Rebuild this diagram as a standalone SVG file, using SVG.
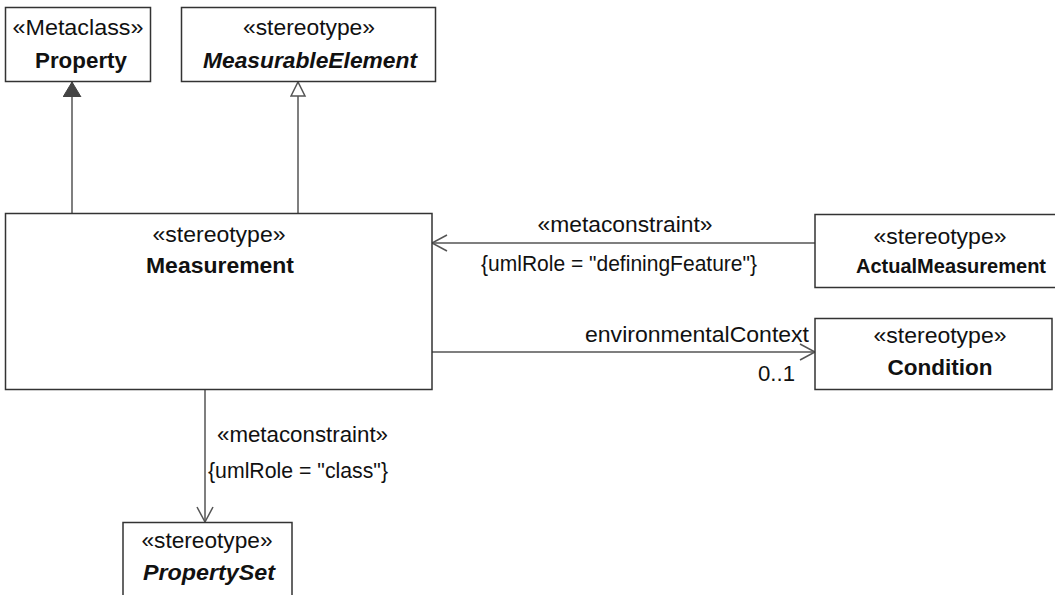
<svg xmlns="http://www.w3.org/2000/svg" width="1055" height="595" viewBox="0 0 1055 595">
<style>
.box{fill:#fff;stroke:#333;stroke-width:1.5}
.ln{fill:none;stroke:#555;stroke-width:1.5}
text{font-family:"Liberation Sans",Arial,sans-serif;font-size:22px;fill:#111}
.st{text-anchor:middle}
.nm{text-anchor:middle;font-weight:bold}
.it{font-style:italic}
</style>
<defs>
<marker id="filled" markerWidth="20" markerHeight="20" refX="15" refY="9" orient="auto" markerUnits="userSpaceOnUse">
<path d="M0,0 L15,9 L0,18 Z" fill="#444" stroke="#444" stroke-width="1"/>
</marker>
<marker id="hollow" markerWidth="20" markerHeight="20" refX="15" refY="8" orient="auto" markerUnits="userSpaceOnUse">
<path d="M1,1 L15,8 L1,15 Z" fill="#fff" stroke="#555" stroke-width="1.5"/>
</marker>
<marker id="open" markerWidth="20" markerHeight="20" refX="16" refY="9" orient="auto" markerUnits="userSpaceOnUse">
<path d="M1,1 L16,9 L1,17" fill="none" stroke="#555" stroke-width="1.5"/>
</marker>
</defs>

<g id="connectors">
<line class="ln" x1="72" y1="213" x2="72" y2="82" marker-end="url(#filled)"/>
<line class="ln" x1="298" y1="213" x2="298" y2="82" marker-end="url(#hollow)"/>
<line class="ln" x1="815" y1="243" x2="432" y2="243" marker-end="url(#open)"/>
<text class="st" x="625" y="232" textLength="175" lengthAdjust="spacingAndGlyphs">«metaconstraint»</text>
<text class="st" x="619" y="271" textLength="276" lengthAdjust="spacingAndGlyphs">{umlRole = "definingFeature"}</text>
<line class="ln" x1="432" y1="352" x2="815" y2="352" marker-end="url(#open)"/>
<text x="585" y="342" textLength="224" lengthAdjust="spacingAndGlyphs">environmentalContext</text>
<text x="758" y="381" textLength="37" lengthAdjust="spacingAndGlyphs">0..1</text>
<line class="ln" x1="205" y1="389" x2="205" y2="522" marker-end="url(#open)"/>
<text x="217" y="442" textLength="171" lengthAdjust="spacingAndGlyphs">«metaconstraint»</text>
<text x="208" y="478" textLength="180" lengthAdjust="spacingAndGlyphs">{umlRole = "class"}</text>
</g>

<g id="property">
<rect class="box" x="5.5" y="7.5" width="145" height="74"/>
<text class="st" x="78" y="35" textLength="131" lengthAdjust="spacingAndGlyphs">«Metaclass»</text>
<text class="nm" x="81" y="68" textLength="92" lengthAdjust="spacingAndGlyphs">Property</text>
</g>

<g id="measurableElement">
<rect class="box" x="181.5" y="7.5" width="254" height="74"/>
<text class="st" x="309" y="35" textLength="132" lengthAdjust="spacingAndGlyphs">«stereotype»</text>
<text class="nm it" x="310" y="68" textLength="214" lengthAdjust="spacingAndGlyphs">MeasurableElement</text>
</g>

<g id="measurement">
<rect class="box" x="5.5" y="213.5" width="426.5" height="176"/>
<text class="st" x="219" y="242" textLength="133" lengthAdjust="spacingAndGlyphs">«stereotype»</text>
<text class="nm" x="220" y="273" textLength="148" lengthAdjust="spacingAndGlyphs">Measurement</text>
</g>

<g id="actualMeasurement">
<rect class="box" x="815" y="214.5" width="245" height="73"/>
<text class="st" x="940" y="244" textLength="133" lengthAdjust="spacingAndGlyphs">«stereotype»</text>
<text class="nm" x="951" y="273" style="font-size:20px">ActualMeasurement</text>
</g>

<g id="condition">
<rect class="box" x="815" y="318.5" width="237" height="71"/>
<text class="st" x="940" y="343" textLength="133" lengthAdjust="spacingAndGlyphs">«stereotype»</text>
<text class="nm" x="940" y="375" textLength="105" lengthAdjust="spacingAndGlyphs">Condition</text>
</g>

<g id="propertySet">
<rect class="box" x="123" y="522.5" width="169" height="80"/>
<text class="st" x="207" y="548" textLength="131" lengthAdjust="spacingAndGlyphs">«stereotype»</text>
<text class="nm it" x="209" y="580" textLength="132" lengthAdjust="spacingAndGlyphs">PropertySet</text>
</g>
</svg>
